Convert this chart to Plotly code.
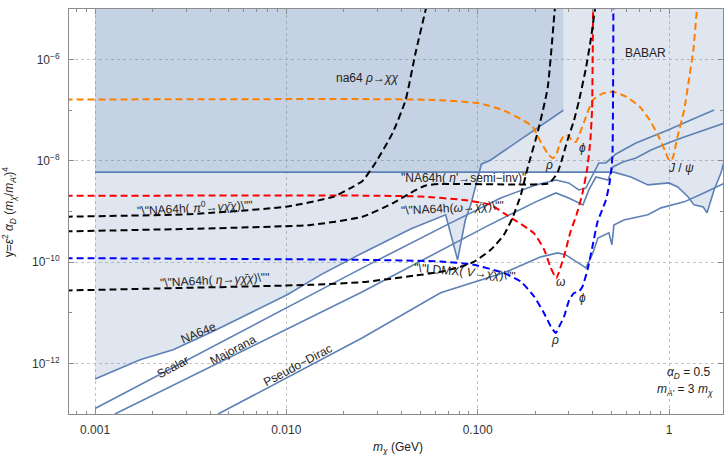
import numpy as np
import plotly.graph_objects as go

# ---------------- data (x = m_chi in GeV, y = epsilon^2 alpha_D (m_chi/m_A')^4) ----------------
na64e_x = [0.001, 0.00172, 0.00256, 0.00415, 0.00672, 0.0101, 0.0151, 0.025, 0.0446, 0.068,
           0.0785, 0.0861, 0.0925, 0.0995, 0.1045, 0.1164, 0.2804]
na64e_y = [4.9e-13, 1.18e-12, 1.86e-12, 4.3e-12, 1.06e-11, 2.27e-11, 5.6e-11, 1.52e-10, 4.5e-10, 8.6e-10,
           1.11e-10, 6.7e-10, 1.46e-9, 4.16e-9, 8.6e-9, 1.03e-8, 1.0e-7]

babar_x = [0.001, 0.515, 0.632, 0.776, 1.0, 1.11, 1.26, 1.35, 1.51, 1.58, 1.72, 1.87, 1.96]
babar_y = [6.0e-9, 6.0e-9, 4.8e-9, 3.35e-9, 3.67e-9, 3.05e-9, 1.94e-9, 1.35e-9, 1.23e-9, 9.4e-10,
           2.67e-9, 5.8e-9, 1.14e-8]

scalar_x = [0.001, 0.025, 0.0723, 0.132, 0.201, 0.256, 0.299, 0.338, 0.368, 0.405, 0.430, 0.468,
            0.497, 0.528, 0.672, 0.805, 0.989, 1.30, 1.72]
scalar_y = [1.28e-13, 7.7e-11, 5.96e-10, 1.85e-9, 3.35e-9, 4.2e-9, 3.67e-9, 2.67e-9, 2.92e-9, 6.0e-9,
            9.1e-9, 9.1e-9, 1.14e-8, 1.37e-8, 2.25e-8, 2.96e-8, 4.07e-8, 6.4e-8, 1.01e-7]

majorana_x = [0.00127, 0.025, 0.110, 0.168, 0.201, 0.256, 0.299, 0.355, 0.381, 0.415, 0.480, 0.509,
              0.574, 0.672, 0.805, 0.989, 1.20, 1.96]
majorana_y = [1.0e-13, 2.6e-11, 4.97e-10, 1.12e-9, 1.55e-9, 2.33e-9, 1.85e-9, 1.35e-9, 2.67e-9, 4.8e-9,
              4.2e-9, 7.6e-9, 9.5e-9, 1.14e-8, 1.64e-8, 2.25e-8, 2.96e-8, 5.6e-8]

pdirac_x = [0.0044, 0.025, 0.064, 0.137, 0.214, 0.262, 0.289, 0.368, 0.381, 0.400, 0.425, 0.457,
            0.485, 0.503, 0.515, 0.581, 0.776, 0.908, 1.20, 1.52, 1.96]
pdirac_y = [1.0e-13, 3.21e-12, 2.48e-11, 6.15e-11, 1.27e-10, 1.52e-10, 1.39e-10, 7.7e-11, 1.01e-10,
            1.52e-10, 3.0e-10, 3.45e-10, 3.8e-10, 2.2e-10, 5.4e-10, 6.8e-10, 8.6e-10, 1.18e-9,
            1.55e-9, 2.33e-9, 3.67e-9]

na64rho_x = [0.0007, 0.01, 0.025, 0.06, 0.102, 0.135, 0.172, 0.194, 0.211, 0.232, 0.247, 0.257, 0.273,
             0.285, 0.299, 0.313, 0.326, 0.339, 0.360, 0.400, 0.451, 0.509, 0.597, 0.703, 0.793, 0.875,
             0.949, 1.006, 1.045, 1.11, 1.20, 1.27, 1.34, 1.40, 1.42]
na64rho_y = [1.63e-7, 1.66e-7, 1.66e-7, 1.6e-7, 1.37e-7, 1.01e-7, 6.4e-8, 4.73e-8, 2.58e-8, 1.41e-8,
             1.13e-8, 1.31e-8, 2.58e-8, 3.24e-8, 3.1e-8, 2.39e-8, 2.36e-8, 3.24e-8, 5.93e-8, 1.59e-7,
             2.15e-7, 2.32e-7, 1.85e-7, 1.17e-7, 6.4e-8, 3.24e-8, 1.64e-8, 9.96e-9, 1.14e-8, 3.1e-8,
             1.01e-7, 3.94e-7, 1.54e-6, 9.9e-6, 1.4e-5]

omega_x = [0.0007, 0.031, 0.0504, 0.0848, 0.117, 0.137, 0.161, 0.197, 0.223, 0.240, 0.2576, 0.2702,
           0.2837, 0.305, 0.328, 0.352, 0.374, 0.388, 0.396, 0.399, 0.401, 0.402]
omega_y = [2.05e-9, 2.05e-9, 1.97e-9, 1.69e-9, 1.35e-9, 9.25e-10, 6.3e-10, 3.7e-10, 1.73e-10, 8.0e-11,
           4.8e-11, 7.6e-11, 1.37e-10, 3.9e-10, 8.45e-10, 2.2e-9, 7.2e-9, 2.56e-8, 1.0e-7, 9.8e-7,
           1.0e-5, 1.5e-5]

ldmx_x = [0.0007, 0.025, 0.064, 0.0957, 0.137, 0.168, 0.197, 0.222, 0.241, 0.256, 0.267, 0.283, 0.301,
          0.319, 0.339, 0.353, 0.375, 0.398, 0.423, 0.441, 0.468, 0.487, 0.497, 0.506, 0.509, 0.511, 0.512]
ldmx_y = [1.2e-10, 1.11e-10, 1.03e-10, 8.85e-11, 6.07e-11, 4.14e-11, 2.1e-11, 9.86e-12, 5.37e-12,
          3.98e-12, 5.37e-12, 8.45e-12, 1.8e-11, 2.45e-11, 2.63e-11, 3.3e-11, 7.05e-11, 2.03e-10,
          6.24e-10, 9.4e-10, 1.69e-9, 3.35e-9, 5.77e-9, 1.19e-8, 6.4e-8, 9.8e-7, 1.5e-5]

pi0_x = [0.0007, 0.0031, 0.0101, 0.0177, 0.0216, 0.025, 0.0292, 0.0359, 0.0420, 0.0473, 0.0534, 0.0548]
pi0_y = [7.9e-10, 8.85e-10, 1.25e-9, 1.97e-9, 2.88e-9, 4.02e-9, 9.1e-9, 3.55e-8, 1.59e-7, 1.34e-6,
         9.5e-6, 1.5e-5]

etap_x = [0.0007, 0.0134, 0.025, 0.0363, 0.0446, 0.0534, 0.064, 0.168, 0.235, 0.250, 0.262, 0.272,
          0.295, 0.319, 0.339, 0.368, 0.391, 0.410, 0.415]
etap_y = [4.05e-10, 5.44e-10, 7.9e-10, 1.48e-9, 2.33e-9, 3.27e-9, 3.5e-9, 3.42e-9, 3.58e-9, 4.54e-9,
          6.0e-9, 8.97e-9, 2.58e-8, 6.4e-8, 1.59e-7, 6.8e-7, 2.65e-6, 1.0e-5, 1.3e-5]

eta_x = [0.0007, 0.0134, 0.025, 0.0462, 0.064, 0.0814, 0.0953, 0.117, 0.137, 0.152, 0.168, 0.183,
         0.206, 0.232, 0.253, 0.256]
eta_y = [2.75e-11, 3.56e-11, 4.03e-11, 5.37e-11, 6.44e-11, 8.08e-11, 1.01e-10, 1.75e-10, 3.45e-10,
         7.48e-10, 2.12e-9, 7.59e-9, 3.72e-8, 2.74e-7, 9.9e-6, 1.4e-5]

x_ticks = [0.001, 0.01, 0.1, 1]
x_ticktext = ["0.001", "0.010", "0.100", "1"]
y_ticks = [1e-12, 1e-10, 1e-8, 1e-6]
y_ticktext = ["10<sup>−12</sup>", "10<sup>−10</sup>", "10<sup>−8</sup>", "10<sup>−6</sup>"]
x_minor = [8e-4, 9e-4] + [k * 1e-3 for k in range(2, 10)] + [k * 1e-2 for k in range(2, 10)] + \
          [k * 1e-1 for k in range(2, 10)]
y_minor = [1e-11, 1e-9, 1e-7]

x_range = [0.000731, 1.915]
y_range = [1e-13, 1e-5]

# ---------------- styles ----------------
LINE_BLUE = "rgb(94,129,181)"
FILL_BLUE = "rgba(94,129,181,0.2)"
FONT = "Liberation Sans, Arial, sans-serif"
DASH = "7px,4px"

fig = go.Figure()

# shaded exclusion regions
y_top = y_range[1]
fig.add_trace(go.Scatter(x=na64e_x + [na64e_x[-1], na64e_x[0]], y=na64e_y + [y_top, y_top],
                         mode="lines", fill="toself", fillcolor=FILL_BLUE, line=dict(width=0),
                         hoverinfo="skip", showlegend=False))
fig.add_trace(go.Scatter(x=babar_x + [babar_x[-1], babar_x[0]], y=babar_y + [y_top, y_top],
                         mode="lines", fill="toself", fillcolor=FILL_BLUE, line=dict(width=0),
                         hoverinfo="skip", showlegend=False))

# solid curves
for xs, ys in [(na64e_x, na64e_y), (babar_x, babar_y), (scalar_x, scalar_y),
               (majorana_x, majorana_y), (pdirac_x, pdirac_y)]:
    fig.add_trace(go.Scatter(x=xs, y=ys, mode="lines", line=dict(color=LINE_BLUE, width=1.6),
                             hoverinfo="skip", showlegend=False))

# dashed projections
for xs, ys, col in [(na64rho_x, na64rho_y, "rgb(255,128,0)"), (omega_x, omega_y, "rgb(255,0,0)"),
                    (ldmx_x, ldmx_y, "rgb(0,0,255)"), (pi0_x, pi0_y, "black"),
                    (etap_x, etap_y, "black"), (eta_x, eta_y, "black")]:
    fig.add_trace(go.Scatter(x=xs, y=ys, mode="lines",
                             line=dict(color=col, width=2, dash=DASH, shape="spline", smoothing=0.5),
                             hoverinfo="skip", showlegend=False))

# ---------------- labels ----------------
def label(x, y, text, angle=0, size=12, xanchor="center"):
    fig.add_annotation(x=np.log10(x), y=np.log10(y), xref="x", yref="y", text=text, showarrow=False,
                       textangle=angle, xanchor=xanchor, yanchor="middle",
                       font=dict(family=FONT, size=size, color="#222"))

label(0.0265, 4.3e-7, "na64 <i>ρ</i>→<i>χχ</i>")
label(0.752, 1.34e-6, "BABAR")
label(0.2368, 8.2e-9, "<i>ρ</i>")
label(0.352, 1.78e-8, "<i>ϕ</i>")
label(1.16, 7.2e-9, "<i>J</i> / <i>ψ</i>")
label(0.270, 4.0e-11, "<i>ω</i>")
label(0.352, 2.0e-11, "<i>ϕ</i>")
label(0.2547, 2.86e-12, "<i>ρ</i>")
label(0.0841, 4.55e-9, "\"NA64h( <i>η</i>'→semi−inv)\"")
label(0.00333, 1.22e-9, "\"\\\"NA64h( <i>π</i><sup>0</sup>→<i>γ</i><i>χ̄χ</i>)\\\"\"", angle=-3)
label(0.0736, 1.16e-9, "\"\\\"NA64h(<i>ω</i>→<i>χ̄χ</i>)\\\"\"", angle=-3)
label(0.00425, 4.4e-11, "\"\\\"NA64h( <i>η</i>→<i>γ</i><i>χ̄χ</i>)\\\"\"", angle=-3)
label(0.0861, 6.3e-11, "\"\\\"LDMX( <i>V</i>→<i>χ̄χ</i>)\\\"\"", angle=5)
label(0.00346, 3.94e-12, "NA64e", angle=-23)
label(0.00256, 8.4e-13, "Scalar", angle=-28)
label(0.00527, 1.82e-12, "Majorana", angle=-28)
label(0.01153, 9.2e-13, "Pseudo−Dirac", angle=-28)
label(1.69, 6.4e-13, "<i>α</i><sub><i>D</i></sub> = 0.5", xanchor="right")
label(1.73, 2.95e-13, "<i>m</i><sub><i>A'</i></sub> = 3 <i>m</i><sub><i>χ</i></sub>", xanchor="right")

# axis titles
fig.add_annotation(x=0.503, y=-0.085, xref="paper", yref="paper", showarrow=False,
                   xanchor="center", yanchor="middle",
                   text="<i>m</i><sub><i>χ</i></sub> (GeV)", font=dict(family=FONT, size=12, color="#222"))
fig.add_annotation(x=-0.092, y=0.50, xref="paper", yref="paper", showarrow=False, textangle=-90,
                   xanchor="center", yanchor="middle",
                   text="y=<i>ε</i><sup>2</sup> <i>α</i><sub><i>D</i></sub> (<i>m</i><sub><i>χ</i></sub>/<i>m</i><sub><i>A'</i></sub>)<sup>4</sup>",
                   font=dict(family=FONT, size=12, color="#222"))

axis_common = dict(type="log", showline=True, linecolor="#8c8c8c", linewidth=1, mirror="ticks",
                   ticks="inside", ticklen=5, tickwidth=1, tickcolor="#8c8c8c",
                   showgrid=True, gridcolor="#c4c4c4", griddash="dot", gridwidth=1, zeroline=False,
                   tickfont=dict(family=FONT, size=12, color="#333"))

fig.update_xaxes(**axis_common, range=[np.log10(x_range[0]), np.log10(x_range[1])],
                 tickmode="array", tickvals=x_ticks, ticktext=x_ticktext, ticklabelstandoff=5,
                 minor=dict(tickmode="array", tickvals=x_minor, ticks="inside", ticklen=3,
                            tickcolor="#8c8c8c", showgrid=False))
fig.update_yaxes(**axis_common, range=[np.log10(y_range[0]), np.log10(y_range[1])],
                 tickmode="array", tickvals=y_ticks, ticktext=y_ticktext, ticklabelstandoff=6,
                 minor=dict(tickmode="array", tickvals=y_minor, ticks="inside", ticklen=3,
                            tickcolor="#8c8c8c", showgrid=False))

fig.update_layout(width=724, height=455, margin=dict(l=69, r=1, t=9, b=41),
                  paper_bgcolor="white", plot_bgcolor="white", showlegend=False)

fig.write_html("out.html")
